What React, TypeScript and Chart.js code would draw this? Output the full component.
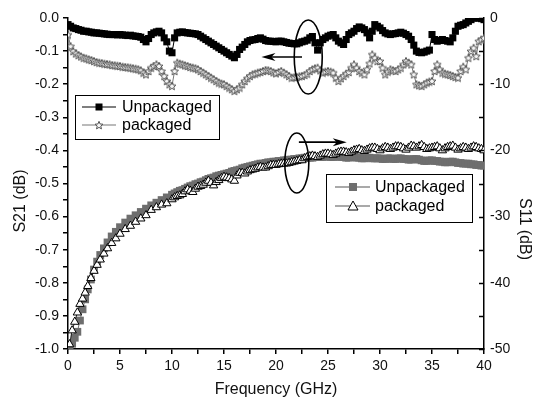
import React, { useEffect, useRef } from 'react';
import { Chart, registerables } from 'chart.js';

Chart.register(...registerables);

// ---------------- DATA ----------------
const freqS21 = [
  0, 0.25, 0.5, 0.75, 1, 1.25, 1.5, 1.75, 2, 2.25, 2.5, 2.75, 3, 3.25, 3.5, 3.75,
  4, 4.25, 4.5, 4.75, 5, 5.25, 5.5, 5.75, 6, 6.25, 6.5, 6.75, 7, 7.25, 7.5, 7.75,
  8, 8.25, 8.5, 8.75, 9, 9.25, 9.5, 9.75, 10, 10.25, 10.5, 10.75, 11, 11.25, 11.5, 11.75,
  12, 12.25, 12.5, 12.75, 13, 13.25, 13.5, 13.75, 14, 14.25, 14.5, 14.75, 15, 15.25, 15.5, 15.75,
  16, 16.25, 16.5, 16.75, 17, 17.25, 17.5, 17.75, 18, 18.25, 18.5, 18.75, 19, 19.25, 19.5, 19.75,
  20, 20.25, 20.5, 20.75, 21, 21.25, 21.5, 21.75, 22, 22.25, 22.5, 22.75, 23, 23.25, 23.5, 23.75,
  24, 24.25, 24.5, 24.75, 25, 25.25, 25.5, 25.75, 26, 26.25, 26.5, 26.75, 27, 27.25, 27.5, 27.75,
  28, 28.25, 28.5, 28.75, 29, 29.25, 29.5, 29.75, 30, 30.25, 30.5, 30.75, 31, 31.25, 31.5, 31.75,
  32, 32.25, 32.5, 32.75, 33, 33.25, 33.5, 33.75, 34, 34.25, 34.5, 34.75, 35, 35.25, 35.5, 35.75,
  36, 36.25, 36.5, 36.75, 37, 37.25, 37.5, 37.75, 38, 38.25, 38.5, 38.75, 39, 39.25, 39.5, 39.75,
  40,
];

const s21Unpackaged = [
  -0.02, -0.025, -0.03, -0.032, -0.035, -0.037, -0.04, -0.04,
  -0.042, -0.043, -0.045, -0.045, -0.046, -0.047, -0.048, -0.049,
  -0.05, -0.05, -0.05, -0.051, -0.05, -0.051, -0.052, -0.053,
  -0.052, -0.054, -0.055, -0.056, -0.058, -0.065, -0.072, -0.062,
  -0.05, -0.045, -0.042, -0.04, -0.045, -0.06, -0.072, -0.1,
  -0.105, -0.06, -0.045, -0.043, -0.042, -0.044, -0.045, -0.046,
  -0.047, -0.048, -0.05, -0.055, -0.06, -0.065, -0.07, -0.075,
  -0.08, -0.085, -0.09, -0.095, -0.1, -0.105, -0.11, -0.115,
  -0.12, -0.11, -0.095, -0.088, -0.08, -0.072, -0.068, -0.066,
  -0.065, -0.062, -0.06, -0.064, -0.068, -0.07, -0.07, -0.071,
  -0.072, -0.07, -0.07, -0.072, -0.074, -0.076, -0.077, -0.078,
  -0.078, -0.075, -0.072, -0.07, -0.067, -0.06, -0.056, -0.075,
  -0.097, -0.075, -0.065, -0.06, -0.055, -0.052, -0.05, -0.06,
  -0.07, -0.075, -0.08, -0.065, -0.05, -0.045, -0.04, -0.032,
  -0.027, -0.03, -0.035, -0.045, -0.06, -0.04, -0.02, -0.025,
  -0.03, -0.038, -0.045, -0.048, -0.05, -0.048, -0.047, -0.045,
  -0.043, -0.046, -0.05, -0.055, -0.065, -0.082, -0.1, -0.104,
  -0.105, -0.103, -0.1, -0.097, -0.05, -0.065, -0.07, -0.068,
  -0.065, -0.068, -0.07, -0.072, -0.06, -0.04, -0.025, -0.022,
  -0.02, -0.015, -0.01, -0.005, 0, 0, 0, -0.002,
  -0.005,
];

const s21Packaged = [
  -0.05, -0.085, -0.1, -0.107, -0.112, -0.116, -0.12, -0.122,
  -0.125, -0.127, -0.13, -0.133, -0.135, -0.136, -0.138, -0.139,
  -0.14, -0.142, -0.143, -0.144, -0.145, -0.147, -0.148, -0.149,
  -0.15, -0.152, -0.153, -0.155, -0.158, -0.165, -0.17, -0.16,
  -0.15, -0.145, -0.14, -0.145, -0.16, -0.175, -0.19, -0.2,
  -0.205, -0.16, -0.135, -0.138, -0.14, -0.143, -0.145, -0.148,
  -0.15, -0.152, -0.155, -0.16, -0.165, -0.17, -0.175, -0.18,
  -0.185, -0.19, -0.195, -0.198, -0.2, -0.205, -0.21, -0.215,
  -0.22, -0.215, -0.21, -0.2, -0.19, -0.182, -0.175, -0.17,
  -0.168, -0.165, -0.163, -0.16, -0.157, -0.158, -0.16, -0.164,
  -0.167, -0.163, -0.16, -0.165, -0.17, -0.175, -0.18, -0.179,
  -0.178, -0.176, -0.175, -0.172, -0.168, -0.16, -0.155, -0.152,
  -0.15, -0.158, -0.165, -0.162, -0.16, -0.162, -0.165, -0.18,
  -0.19, -0.182, -0.175, -0.168, -0.163, -0.15, -0.14, -0.15,
  -0.16, -0.165, -0.17, -0.155, -0.137, -0.11, -0.12, -0.13,
  -0.13, -0.15, -0.17, -0.162, -0.155, -0.158, -0.16, -0.155,
  -0.15, -0.14, -0.13, -0.135, -0.14, -0.17, -0.2, -0.203,
  -0.205, -0.2, -0.195, -0.192, -0.19, -0.16, -0.14, -0.155,
  -0.165, -0.168, -0.17, -0.172, -0.175, -0.178, -0.18, -0.16,
  -0.147, -0.155, -0.12, -0.1, -0.09, -0.115, -0.07, -0.065,
  -0.06,
];

const freqS11 = [
  0.15, 0.4, 0.65, 0.9, 1.15, 1.4, 1.65, 1.9, 2.2, 2.5, 2.8, 3.1, 3.45, 3.8, 4.2, 4.6,
  5, 5.5, 6, 6.5, 7, 7.5, 8, 8.5, 9, 9.5,
  10, 10.25, 10.5, 10.75, 11, 11.25, 11.5, 11.75, 12, 12.25, 12.5, 12.75, 13, 13.25, 13.5, 13.75,
  14, 14.25, 14.5, 14.75, 15, 15.25, 15.5, 15.75, 16, 16.25, 16.5, 16.75, 17, 17.25, 17.5, 17.75,
  18, 18.25, 18.5, 18.75, 19, 19.25, 19.5, 19.75, 20, 20.25, 20.5, 20.75, 21, 21.25, 21.5, 21.75,
  22, 22.25, 22.5, 22.75, 23, 23.25, 23.5, 23.75, 24, 24.25, 24.5, 24.75, 25, 25.25, 25.5, 25.75,
  26, 26.25, 26.5, 26.75, 27, 27.25, 27.5, 27.75, 28, 28.25, 28.5, 28.75, 29, 29.25, 29.5, 29.75,
  30, 30.25, 30.5, 30.75, 31, 31.25, 31.5, 31.75, 32, 32.25, 32.5, 32.75, 33, 33.25, 33.5, 33.75,
  34, 34.25, 34.5, 34.75, 35, 35.25, 35.5, 35.75, 36, 36.25, 36.5, 36.75, 37, 37.25, 37.5, 37.75,
  38, 38.25, 38.5, 38.75, 39, 39.25, 39.5, 39.75, 40,
];

const s11Packaged = [
  -49.3, -47.2, -45.9, -44.5, -43.2, -42.4, -41.5, -40.5,
  -39.3, -38.2, -37.3, -36.5, -35.6, -34.8, -34.0, -33.3,
  -32.6, -31.9, -31.4, -30.8, -30.3, -29.8, -29.0, -28.6, -28.2, -28.0,
  -27.4, -27.1, -26.9, -26.8, -26.6, -26.2, -25.9, -26.1,
  -26.3, -25.8, -25.5, -25.4, -25.2, -24.9, -24.6, -24.9,
  -25.3, -24.8, -24.5, -24.2, -24.0, -24.1, -24.2, -24.4,
  -24.6, -23.8, -23.4, -23.4, -23.5, -23.2, -23.0, -22.9,
  -22.8, -22.6, -22.5, -22.6, -22.6, -22.4, -22.2, -22.2,
  -22.2, -22.1, -22.0, -22.0, -22.0, -21.9, -21.8, -21.7,
  -21.6, -21.5, -21.5, -21.2, -21.0, -20.9, -20.8, -20.9,
  -21.0, -20.8, -20.6, -20.5, -20.5, -20.6, -20.7, -20.5,
  -20.3, -20.2, -20.2, -20.3, -20.4, -20.2, -20.0, -19.9,
  -19.8, -20.0, -20.1, -19.9, -19.7, -19.6, -19.6, -19.8,
  -20.0, -19.7, -19.5, -19.6, -19.8, -19.6, -19.4, -19.4,
  -19.5, -19.7, -19.9, -19.6, -19.3, -19.4, -19.6, -19.4,
  -19.2, -19.5, -19.8, -19.7, -19.6, -19.5, -19.4, -19.7,
  -20.0, -19.7, -19.5, -19.4, -19.3, -19.6, -19.9, -19.7,
  -19.5, -19.6, -19.8, -19.6, -19.4, -19.5, -19.7, -19.8,
  -20.0,
];

const s11Unpackaged = [
  -49.8, -49.2, -48.3, -47.4, -45.7, -44.0, -42.5, -41.0,
  -39.5, -38.0, -36.8, -35.8, -34.8, -33.9, -33.0, -32.3,
  -31.6, -30.9, -30.3, -29.8, -29.3, -28.8, -28.3, -27.9, -27.5, -27.1,
  -26.7, -26.5, -26.3, -26.1, -26.0, -25.8, -25.6, -25.4,
  -25.3, -25.1, -25.0, -24.8, -24.7, -24.5, -24.3, -24.2,
  -24.1, -23.9, -23.8, -23.7, -23.6, -23.5, -23.4, -23.2,
  -23.1, -23.0, -22.9, -22.7, -22.6, -22.5, -22.4, -22.3,
  -22.2, -22.1, -22.0, -22.0, -21.9, -21.8, -21.8, -21.7,
  -21.7, -21.6, -21.6, -21.5, -21.5, -21.4, -21.4, -21.3,
  -21.3, -21.2, -21.2, -21.1, -21.1, -21.1, -21.1, -21.0,
  -21.0, -21.0, -21.0, -20.9, -20.9, -21.0, -21.0, -20.9,
  -20.9, -21.0, -21.0, -21.1, -21.1, -21.0, -21.0, -21.1,
  -21.1, -21.2, -21.2, -21.1, -21.1, -21.2, -21.2, -21.2,
  -21.2, -21.3, -21.3, -21.2, -21.2, -21.3, -21.3, -21.2,
  -21.2, -21.3, -21.3, -21.4, -21.4, -21.3, -21.3, -21.4,
  -21.5, -21.6, -21.6, -21.5, -21.5, -21.6, -21.6, -21.7,
  -21.7, -21.8, -21.8, -21.7, -21.7, -21.8, -21.9, -21.9,
  -22.0, -22.0, -22.0, -22.1, -22.1, -22.2, -22.2, -22.3,
  -22.3,
];

const rightTickValues = [0, -5, -10, -15, -20, -25, -30, -35, -40, -45, -50];

const FONT = '"Liberation Sans", Arial, Helvetica, sans-serif';

function makeStar(size: number, stroke: string, fill: string) {
  const c = document.createElement('canvas');
  c.width = size;
  c.height = size;
  const g = c.getContext('2d')!;
  const cx = size / 2, cy = size / 2 + 0.5;
  const R = size / 2 - 0.8, r = R * 0.45;
  g.beginPath();
  for (let i = 0; i < 10; i++) {
    const a = -Math.PI / 2 + (i * Math.PI) / 5;
    const rad = i % 2 === 0 ? R : r;
    g.lineTo(cx + rad * Math.cos(a), cy + rad * Math.sin(a));
  }
  g.closePath();
  g.fillStyle = fill;
  g.fill();
  g.strokeStyle = stroke;
  g.lineWidth = 1;
  g.stroke();
  return c;
}

function drawArrow(ctx: CanvasRenderingContext2D, x0: number, y0: number, x1: number, y1: number) {
  const dir = Math.sign(x1 - x0);
  ctx.beginPath();
  ctx.moveTo(x0, y0);
  ctx.lineTo(x1 - dir * 6, y1);
  ctx.stroke();
  ctx.beginPath();
  ctx.moveTo(x1, y1);
  ctx.lineTo(x1 - dir * 14, y1 - 4);
  ctx.lineTo(x1 - dir * 10, y1);
  ctx.lineTo(x1 - dir * 14, y1 + 4);
  ctx.closePath();
  ctx.fill();
}

export default function App() {
  const ref = useRef<HTMLCanvasElement>(null);

  useEffect(() => {
    if (!ref.current) return;
    if (
      freqS21.length !== s21Unpackaged.length ||
      freqS21.length !== s21Packaged.length ||
      freqS11.length !== s11Packaged.length ||
      freqS11.length !== s11Unpackaged.length
    ) {
      throw new Error(
        `length mismatch ${freqS21.length} ${s21Unpackaged.length} ${s21Packaged.length} ${freqS11.length} ${s11Packaged.length} ${s11Unpackaged.length}`
      );
    }
    const star = makeStar(10, '#555', '#f4f4f4');

    const custom = {
      id: 'customDecor',
      afterDraw(chart: any) {
        const { ctx, chartArea, scales } = chart;
        const xs = scales.x, ys = scales.y, y1s = scales.y1;
        ctx.save();
        ctx.strokeStyle = '#000';
        ctx.lineWidth = 1.5;
        for (const v of rightTickValues) {
          const py = Math.round(y1s.getPixelForValue(v)) + 0.5;
          ctx.beginPath();
          ctx.moveTo(chartArea.right - 5, py);
          ctx.lineTo(chartArea.right, py);
          ctx.stroke();
        }

        ctx.lineWidth = 1.6;
        ctx.strokeStyle = '#000';
        ctx.fillStyle = '#000';
        ctx.beginPath();
        ctx.ellipse(xs.getPixelForValue(23.1), ys.getPixelForValue(-0.118), 14, 37, 0, 0, Math.PI * 2);
        ctx.stroke();
        drawArrow(ctx, xs.getPixelForValue(22.5), ys.getPixelForValue(-0.118), xs.getPixelForValue(18.6), ys.getPixelForValue(-0.118));
        ctx.beginPath();
        ctx.ellipse(xs.getPixelForValue(22.0), ys.getPixelForValue(-0.438), 12, 30, 0, 0, Math.PI * 2);
        ctx.stroke();
        drawArrow(ctx, xs.getPixelForValue(22.2), ys.getPixelForValue(-0.375), xs.getPixelForValue(26.8), ys.getPixelForValue(-0.375));

        const L = chartArea.left;
        const T = chartArea.top;
        ctx.font = `16px ${FONT}`;
        ctx.textBaseline = 'middle';
        ctx.textAlign = 'left';
        // legend 1
        ctx.fillStyle = '#fff';
        ctx.fillRect(L + 7.5, T + 77.5, 144, 44);
        ctx.lineWidth = 1;
        ctx.strokeStyle = '#000';
        ctx.strokeRect(L + 7.5, T + 77.5, 144, 44);
        let ly = T + 89;
        ctx.strokeStyle = '#000';
        ctx.lineWidth = 1.2;
        ctx.beginPath(); ctx.moveTo(L + 14, ly); ctx.lineTo(L + 48, ly); ctx.stroke();
        ctx.fillStyle = '#000';
        ctx.fillRect(L + 27.5, ly - 3.5, 7, 7);
        ctx.fillText('Unpackaged', L + 54, ly + 1);
        ly = T + 107;
        ctx.strokeStyle = '#777';
        ctx.beginPath(); ctx.moveTo(L + 14, ly); ctx.lineTo(L + 48, ly); ctx.stroke();
        ctx.drawImage(star, L + 31 - 5, ly - 5);
        ctx.fillStyle = '#000';
        ctx.fillText('packaged', L + 54, ly + 1);

        // legend 2
        ctx.fillStyle = '#fff';
        ctx.fillRect(L + 258.5, T + 156.5, 146, 48);
        ctx.lineWidth = 1;
        ctx.strokeStyle = '#000';
        ctx.strokeRect(L + 258.5, T + 156.5, 146, 48);
        ly = T + 169;
        ctx.strokeStyle = '#555';
        ctx.lineWidth = 1.2;
        ctx.beginPath(); ctx.moveTo(L + 267, ly); ctx.lineTo(L + 302, ly); ctx.stroke();
        ctx.fillStyle = '#6e6e6e';
        ctx.fillRect(L + 281, ly - 4, 8, 8);
        ctx.fillStyle = '#000';
        ctx.fillText('Unpackaged', L + 307, ly + 1);
        ly = T + 188;
        ctx.strokeStyle = '#555';
        ctx.beginPath(); ctx.moveTo(L + 267, ly); ctx.lineTo(L + 302, ly); ctx.stroke();
        ctx.beginPath();
        ctx.moveTo(L + 285, ly - 5);
        ctx.lineTo(L + 290, ly + 4);
        ctx.lineTo(L + 280, ly + 4);
        ctx.closePath();
        ctx.fillStyle = '#fff';
        ctx.fill();
        ctx.strokeStyle = '#000';
        ctx.lineWidth = 1;
        ctx.stroke();
        ctx.fillStyle = '#000';
        ctx.fillText('packaged', L + 307, ly + 1);

        // axis titles
        ctx.fillStyle = '#111';
        ctx.font = `16px ${FONT}`;
        ctx.textAlign = 'center';
        ctx.textBaseline = 'middle';
        ctx.fillText('Frequency (GHz)', (chartArea.left + chartArea.right) / 2, 390);
        ctx.save();
        ctx.translate(21, 201);
        ctx.rotate(-Math.PI / 2);
        ctx.fillText('S21 (dB)', 0, 0);
        ctx.restore();
        ctx.save();
        ctx.translate(524, 229);
        ctx.rotate(Math.PI / 2);
        ctx.fillText('S11 (dB)', 0, 0);
        ctx.restore();

        ctx.restore();
      },
    };

    const toXY = (xs: number[], ys: number[]) => xs.map((x, i) => ({ x, y: ys[i] }));

    const chart = new Chart(ref.current, {
      type: 'line',
      data: {
        datasets: [
          {
            label: 'Unpackaged S21',
            data: toXY(freqS21, s21Unpackaged),
            yAxisID: 'y',
            borderColor: '#000',
            borderWidth: 1,
            backgroundColor: '#000',
            pointStyle: 'rect',
            pointRadius: 5,
            pointBorderWidth: 0,
            pointBackgroundColor: '#000',
            tension: 0,
          },
          {
            label: 'packaged S21',
            data: toXY(freqS21, s21Packaged),
            yAxisID: 'y',
            borderColor: '#777',
            borderWidth: 1,
            pointStyle: star as any,
            pointRadius: 5,
            tension: 0,
          },
          {
            label: 'packaged S11',
            data: toXY(freqS11, s11Packaged),
            yAxisID: 'y1',
            borderColor: '#222',
            borderWidth: 1,
            pointStyle: 'triangle',
            pointRadius: 4.8,
            pointBackgroundColor: '#fff',
            pointBorderColor: '#000',
            pointBorderWidth: 1,
            tension: 0,
          },
          {
            label: 'Unpackaged S11',
            data: toXY(freqS11, s11Unpackaged),
            yAxisID: 'y1',
            borderColor: '#6e6e6e',
            borderWidth: 1,
            pointStyle: 'rect',
            pointRadius: 5.5,
            pointBackgroundColor: '#6e6e6e',
            pointBorderWidth: 0,
            tension: 0,
          },
        ],
      },
      options: {
        responsive: false,
        animation: false,
        devicePixelRatio: 1,
        layout: { padding: { top: 18, left: 0, right: 0, bottom: 0 } },
        plugins: { legend: { display: false }, tooltip: { enabled: false } },
        scales: {
          x: {
            type: 'linear',
            min: 0,
            max: 40,
            afterFit: (s: any) => { s.height = 50; },
            ticks: {
              stepSize: 2.5,
              autoSkip: false,
              maxRotation: 0,
              padding: 4,
              color: '#111',
              font: { family: FONT, size: 14 },
              callback: (v: any) => (Number(v) % 5 === 0 ? String(v) : ''),
            },
            grid: { drawOnChartArea: false, drawTicks: true, tickLength: 5, color: '#000', lineWidth: 1.5 },
            border: { display: true, color: '#000', width: 1.5 },
          },
          y: {
            type: 'linear',
            position: 'left',
            min: -1,
            max: 0,
            afterFit: (s: any) => { s.width = 68; },
            ticks: {
              stepSize: 0.05,
              autoSkip: false,
              padding: 4,
              color: '#111',
              font: { family: FONT, size: 14 },
              callback: (v: any) => {
                const k = Math.round(Number(v) * 20);
                return k % 2 === 0 ? (k / 20).toFixed(1) : '';
              },
            },
            grid: { drawOnChartArea: false, drawTicks: true, tickLength: 5, color: '#000', lineWidth: 1.5 },
            border: { display: true, color: '#000', width: 1.5 },
          },
          y1: {
            type: 'linear',
            position: 'right',
            min: -50,
            max: 0,
            afterFit: (s: any) => { s.width = 50; },
            ticks: {
              stepSize: 5,
              autoSkip: false,
              padding: 6,
              color: '#111',
              font: { family: FONT, size: 14 },
              callback: (v: any) => (Number(v) % 10 === 0 ? String(Number(v) === 0 ? 0 : v) : ''),
            },
            grid: { drawOnChartArea: false, drawTicks: false, color: '#000' },
            border: { display: true, color: '#000', width: 1.5 },
          },
        },
      } as any,
      plugins: [custom],
    });

    return () => chart.destroy();
  }, []);

  return (
    <div style={{ position: 'fixed', left: 0, top: 0, width: 534, height: 399, background: '#fff' }}>
      <canvas ref={ref} width={534} height={399} style={{ display: 'block' }} />
    </div>
  );
}
